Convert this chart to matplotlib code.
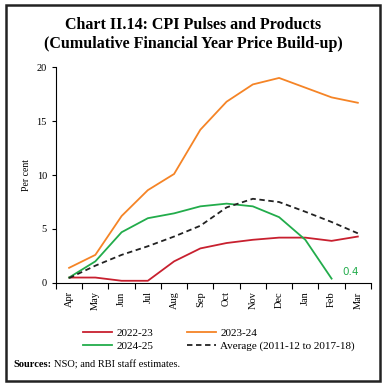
import matplotlib.pyplot as plt
from matplotlib.patches import Rectangle
import numpy as np

plt.rcParams['font.family'] = ['Liberation Serif', 'DejaVu Serif']

months = ['Apr', 'May', 'Jun', 'Jul', 'Aug', 'Sep', 'Oct', 'Nov', 'Dec', 'Jan', 'Feb', 'Mar']
fy2223 = [0.5, 0.5, 0.2, 0.2, 2.0, 3.2, 3.7, 4.0, 4.2, 4.2, 3.9, 4.3]
fy2324 = [1.4, 2.6, 6.2, 8.6, 10.1, 14.2, 16.8, 18.4, 19.0, 18.1, 17.2, 16.7]
fy2425 = [0.5, 2.0, 4.7, 6.0, 6.45, 7.1, 7.35, 7.1, 6.1, 4.0, 0.4]
average = [0.45, 1.6, 2.6, 3.4, 4.3, 5.3, 7.0, 7.8, 7.5, 6.6, 5.65, 4.6]

fig = plt.figure(figsize=(3.86, 3.86), dpi=100)
ax = fig.add_axes([0.145, 0.267, 0.816, 0.559])

x = np.arange(len(months))
l1, = ax.plot(x, fy2223, color='#c8202f', lw=1.3)
l2, = ax.plot(x, fy2324, color='#f58426', lw=1.3)
l3, = ax.plot(x[:len(fy2425)], fy2425, color='#22ac4b', lw=1.3)
l4, = ax.plot(x, average, color='#222222', lw=1.3, ls=(0, (3, 2)))

ax.text(x[len(fy2425) - 1] + 0.4, fy2425[-1] + 0.3, '0.4', color='#22ac4b', fontsize=7.5,
        family=['DejaVu Sans'])

ax.set_xlim(-0.5, 11.5)
ax.set_ylim(0, 20)
ax.set_xticks(np.arange(-0.5, 12, 1))
ax.set_xticklabels([])
ax.set_xticks(x, minor=True)
ax.set_xticklabels(months, minor=True, rotation=90, fontsize=7.5)
ax.tick_params(axis='x', which='minor', length=0, pad=6)
ax.tick_params(axis='x', which='major', length=4, direction='out')
ax.set_yticks([0, 5, 10, 15, 20])
ax.tick_params(axis='y', labelsize=7.5, length=3)
ax.set_ylabel('Per cent', fontsize=7)
ax.spines['top'].set_visible(False)
ax.spines['right'].set_visible(False)
ax.spines['left'].set_linewidth(0.8)
ax.spines['bottom'].set_linewidth(0.8)

fig.text(0.5, 0.935, 'Chart II.14: CPI Pulses and Products', ha='center', va='center',
         fontsize=11.5, fontweight='bold')
fig.text(0.5, 0.887, '(Cumulative Financial Year Price Build-up)', ha='center', va='center',
         fontsize=11.5, fontweight='bold')

fig.legend([l1, l3, l2, l4], ['2022-23', '2024-25', '2023-24', 'Average (2011-12 to 2017-18)'],
           ncol=2, loc='center', bbox_to_anchor=(0.568, 0.12), frameon=False, fontsize=8,
           handlelength=2.6, columnspacing=3.0, labelspacing=0.3, handletextpad=0.4)

fig.text(0.036, 0.055, 'Sources:', fontsize=7.5, fontweight='bold', va='center')
fig.text(0.14, 0.055, 'NSO; and RBI staff estimates.', fontsize=7.5, va='center')

fig.add_artist(Rectangle((0.015, 0.013), 0.97, 0.975, transform=fig.transFigure,
                         fill=False, lw=1.8, edgecolor='#222222'))

fig.savefig('out.png', dpi=100)
